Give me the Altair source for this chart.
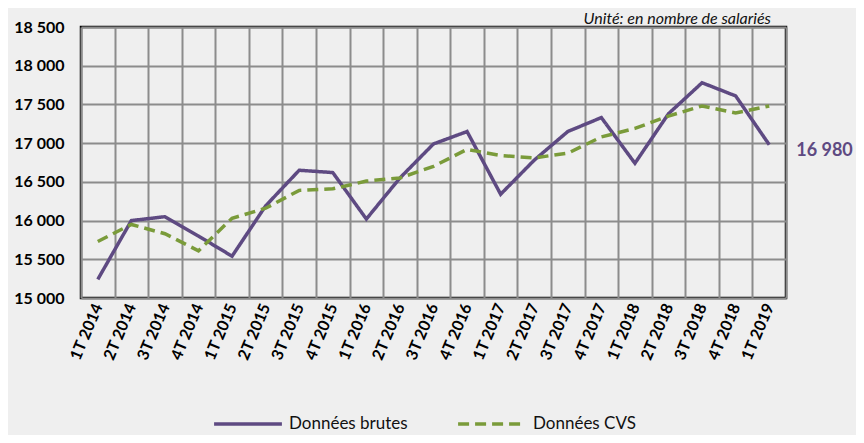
import altair as alt
import pandas as pd

quarters = ["1T 2014", "2T 2014", "3T 2014", "4T 2014",
            "1T 2015", "2T 2015", "3T 2015", "4T 2015",
            "1T 2016", "2T 2016", "3T 2016", "4T 2016",
            "1T 2017", "2T 2017", "3T 2017", "4T 2017",
            "1T 2018", "2T 2018", "3T 2018", "4T 2018",
            "1T 2019"]
brutes = [15240, 16000, 16050, 15800, 15540, 16190, 16650, 16620, 16020, 16550,
          16990, 17150, 16340, 16780, 17150, 17330, 16740, 17380, 17780, 17610, 16980]
cvs = [15730, 15950, 15830, 15610, 16030, 16160, 16390, 16410, 16510, 16550,
       16700, 16920, 16840, 16810, 16870, 17080, 17190, 17350, 17480, 17390, 17480]
series_names = ["Données brutes", "Données CVS"]
y_ticks = [15000, 15500, 16000, 16500, 17000, 17500, 18000, 18500]

PURPLE = "#5E4A82"
GREEN = "#7A9B3A"
FONT = "Lato"

rows = []
for q, b, c in zip(quarters, brutes, cvs):
    rows.append({"trimestre": q, "serie": series_names[0], "valeur": b})
    rows.append({"trimestre": q, "serie": series_names[1], "valeur": c})
df = pd.DataFrame(rows)

last = pd.DataFrame([{"trimestre": quarters[-1], "valeur": brutes[-1],
                      "label": f"{brutes[-1]:,}".replace(",", " ")}])

x_axis = alt.Axis(title=None, labelAngle=-67, labelFont=FONT, labelFontSize=16,
                  labelFontWeight="bold", labelColor="#000000", ticks=False,
                  domain=False, grid=True, tickBand="extent",
                  gridColor="#8C8C8C", gridWidth=2, labelPadding=6)
y_axis = alt.Axis(title=None, values=y_ticks, labelFont=FONT, labelFontSize=16,
                  labelFontWeight="bold", labelColor="#000000", ticks=False,
                  domain=False, grid=True, gridColor="#8C8C8C", gridWidth=2,
                  labelPadding=17, labelOverlap=False,
                  labelExpr="replace(format(datum.value, ','), ',', ' ')")
x_scale = alt.Scale(type="band", paddingInner=0, paddingOuter=0)
y_scale = alt.Scale(domain=[15000, 18500], nice=False, zero=False)

legend_kw = dict(title=None, orient="none", legendX=131, legendY=361,
                 direction="horizontal", symbolType="stroke", symbolSize=4600,
                 symbolStrokeWidth=3.5, labelFont=FONT, labelFontSize=17,
                 labelColor="#111111", labelOffset=5, columnPadding=43)

lines = alt.Chart(df).mark_line(strokeWidth=3.5, strokeCap="butt").encode(
    x=alt.X("trimestre:N", sort=quarters, bandPosition=0.5, scale=x_scale, axis=x_axis),
    y=alt.Y("valeur:Q", scale=y_scale, axis=y_axis),
    color=alt.Color("serie:N", scale=alt.Scale(domain=series_names, range=[PURPLE, GREEN]),
                    legend=alt.Legend(**legend_kw)),
    strokeDash=alt.StrokeDash("serie:N", scale=alt.Scale(domain=series_names,
                                                          range=[[1, 0], [11, 6]]),
                              legend=alt.Legend(**legend_kw)),
    order=alt.Order("serie:N", sort="descending"),
)

label = alt.Chart(last).mark_text(align="left", baseline="middle", dx=27, dy=6,
                                  font=FONT, fontSize=18, fontWeight="bold",
                                  color=PURPLE).encode(
    x=alt.X("trimestre:N", sort=quarters, bandPosition=0.5, scale=x_scale, axis=x_axis),
    y=alt.Y("valeur:Q", scale=y_scale, axis=y_axis),
    text="label:N",
)

chart = alt.layer(lines, label).properties(
    width=705,
    height=271,
    background="#EFEFEF",
    autosize=alt.AutoSizeParams(type="none"),
    padding={"left": 73, "top": 19, "right": 70, "bottom": 137},
    title=alt.TitleParams("Unité: en nombre de salariés", anchor="end", frame="group",
                          font=FONT, fontSize=16, fontStyle="italic", fontWeight="normal",
                          color="#111111", dx=-15, dy=8, offset=0),
).configure_view(stroke="#000000", strokeWidth=2.5)

chart.save("out.html", embed_options={"renderer": "svg", "actions": False})
